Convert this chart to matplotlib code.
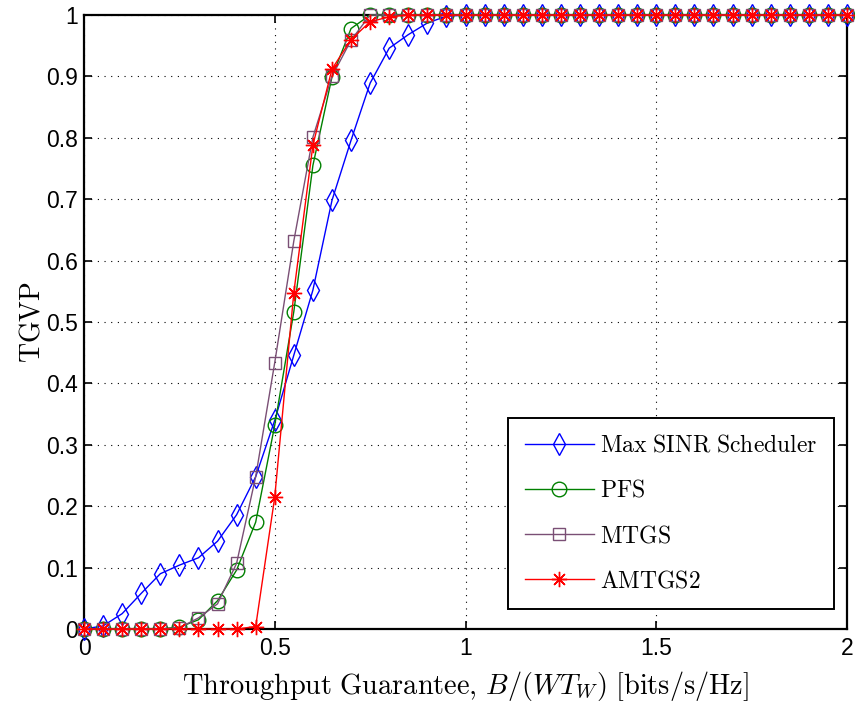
import numpy as np
import matplotlib
matplotlib.use("Agg")
import matplotlib.pyplot as plt

plt.rcParams['mathtext.fontset'] = 'cm'
plt.rcParams['font.family'] = ['Liberation Sans', 'DejaVu Sans']

x = [0.00, 0.05, 0.10, 0.15, 0.20, 0.25, 0.30, 0.35, 0.40, 0.45,
     0.50, 0.55, 0.60, 0.65, 0.70, 0.75, 0.80, 0.85, 0.90, 0.95,
     1.00, 1.05, 1.10, 1.15, 1.20, 1.25, 1.30, 1.35, 1.40, 1.45,
     1.50, 1.55, 1.60, 1.65, 1.70, 1.75, 1.80, 1.85, 1.90, 1.95, 2.00]

max_sinr = [0.0, 0.005, 0.025, 0.058, 0.090, 0.104, 0.116, 0.143, 0.186, 0.248,
            0.340, 0.446, 0.552, 0.698, 0.796, 0.889, 0.946, 0.968, 0.987, 0.998] + [1.0] * 21
pfs = [0.0, 0.0, 0.0, 0.0, 0.0, 0.003, 0.015, 0.046, 0.096, 0.174,
       0.332, 0.517, 0.755, 0.899, 0.978] + [1.0] * 26
mtgs = [0.0, 0.0, 0.0, 0.0, 0.0, 0.002, 0.018, 0.041, 0.107, 0.248,
        0.434, 0.632, 0.801, 0.900, 0.959] + [1.0] * 26
amtgs2 = [0.0, 0.0, 0.0, 0.0, 0.0, 0.0, 0.0, 0.0, 0.0, 0.004,
          0.215, 0.548, 0.788, 0.912, 0.960, 0.989, 0.997] + [1.0] * 24

labels = ['Max SINR Scheduler', 'PFS', 'MTGS', 'AMTGS2']
xticks = [0, 0.5, 1, 1.5, 2]
xticklabels = ['0', '0.5', '1', '1.5', '2']
yticks = [0, 0.1, 0.2, 0.3, 0.4, 0.5, 0.6, 0.7, 0.8, 0.9, 1]
yticklabels = ['0', '0.1', '0.2', '0.3', '0.4', '0.5', '0.6', '0.7', '0.8', '0.9', '1']

fig = plt.figure(figsize=(8.55, 7.06), dpi=100)
ax = fig.add_axes([84/855, 1 - 629/706, 763/855, 614/706])

lw = 1.0
ax.plot(x, max_sinr, color='#0000ff', marker='d', ms=11, mfc='none', mec='#0000ff',
        mew=1.0, lw=lw, clip_on=False, zorder=3)
ax.plot(x, pfs, color='#008000', marker='o', ms=10.5, mfc='none', mec='#008000',
        mew=1.0, lw=lw, clip_on=False, zorder=3)
ax.plot(x, mtgs, color='#7a4f75', marker='s', ms=9, mfc='none', mec='#7a4f75',
        mew=1.0, lw=lw, clip_on=False, zorder=3)
ax.plot(x, amtgs2, color='#ff0000', marker=(8, 2, 0), ms=11, mfc='none', mec='#ff0000',
        mew=1.0, lw=lw, clip_on=False, zorder=4)

ax.set_xlim(0, 2)
ax.set_ylim(0, 1)
ax.set_xticks(xticks)
ax.set_xticklabels(xticklabels)
ax.set_yticks(yticks)
ax.set_yticklabels(yticklabels)
ax.tick_params(direction='in', length=6, width=1.2, top=True, right=True,
               labelsize=16.5)
ax.tick_params(axis='y', pad=4.5)
ax.tick_params(axis='x', pad=6)
for s in ax.spines.values():
    s.set_linewidth(1.6)
ax.grid(True, color='black', linestyle=(0, (1, 5)), linewidth=0.8)

ax.set_xlabel(r'$\mathrm{Throughput\ Guarantee,}\,B/(WT_W)\ \mathrm{[bits/s/Hz]}$',
              fontsize=20.4, labelpad=6)
ax.set_ylabel(r'$\mathrm{TGVP}$', fontsize=20, labelpad=0.5)

leg_labels = [r'$\mathrm{Max\ SINR\ Scheduler}$', r'$\mathrm{PFS}$',
              r'$\mathrm{MTGS}$', r'$\mathrm{AMTGS2}$']
leg = ax.legend(ax.get_lines(), leg_labels, loc='lower right',
                bbox_to_anchor=(0.983, 0.033), borderaxespad=0, fontsize=17,
                fancybox=False, framealpha=1, edgecolor='black',
                handlelength=2.95, labelspacing=0.98, borderpad=0.7,
                handletextpad=0.25)
leg.get_frame().set_linewidth(1.4)

fig.savefig('out.png', dpi=100)
